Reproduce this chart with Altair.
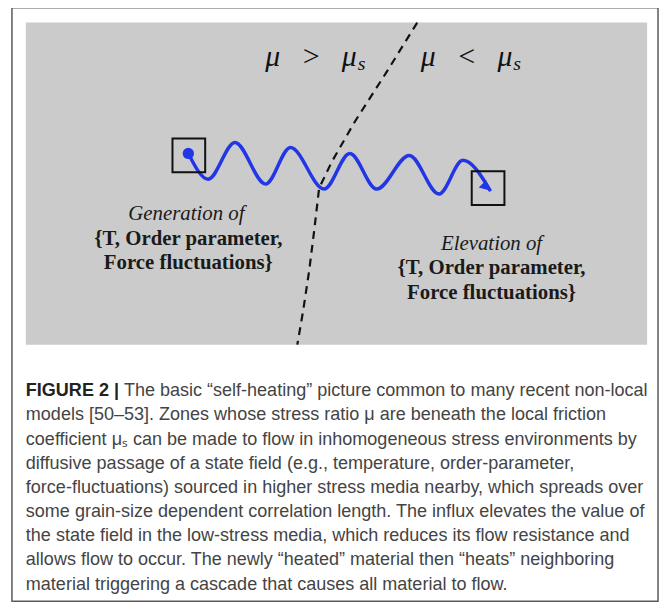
import altair as alt
import pandas as pd

W, H = 657, 597
X0, Y0 = 8, 8

# ---- diagram geometry (reference pixel coordinates) ----
frame_x, frame_x2, frame_y, frame_y2 = [12], [664], [5], [604]
panel_x, panel_x2, panel_y, panel_y2 = [26], [653], [20], [345]

boundary_x = [421, 390, 358, 335, 322, 317, 312, 306, 300]
boundary_y = [20, 70, 120, 160, 187, 230, 270, 310, 345]

wave_x = [190, 210, 237, 268, 293, 327, 353, 380, 413, 443, 467, 495]
wave_y = [152, 178, 141, 183, 146, 188, 152, 188, 154, 193, 159, 190]

box_x, box_x2 = [174, 476], [207, 509]
box_y, box_y2 = [137, 170], [171, 204]

dot_x, dot_y = [190], [152]
arrow_x, arrow_y = [490], [186]

mu_text = ["μ\u2002\u2009>\u2002\u2009μ", "μ\u2002\u2009<\u2002\u2009μ"]
mu_x, mu_y = [360, 517], [55, 55]
sub_text = ["s", "s"]
sub_x, sub_y = [361, 518], [62, 62]

italic_text = ["Generation of", "Elevation of"]
italic_x, italic_y = [188, 496], [213, 243]

bold_text = ["{T,  Order parameter,", "Force fluctuations}",
             "{T,  Order parameter,", "Force fluctuations}"]
bold_x = [190, 190, 496, 496]
bold_y = [238, 263, 268, 293]

# ---- caption ----
cap_head = ["FIGURE 2 |"]
cap_lines = [
    "The basic \u201cself-heating\u201d picture common to many recent non-local",
    "models [50\u201353]. Zones whose stress ratio \u03bc are beneath the local friction",
    "coefficient \u03bc\u209b can be made to flow in inhomogeneous stress environments by",
    "diffusive passage of a state field (e.g., temperature, order-parameter,",
    "force-fluctuations) sourced in higher stress media nearby, which spreads over",
    "some grain-size dependent correlation length. The influx elevates the value of",
    "the state field in the low-stress media, which reduces its flow resistance and",
    "allows flow to occur. The newly \u201cheated\u201d material then \u201cheats\u201d neighboring",
    "material triggering a cascade that causes all material to flow.",
]
cap_x = [125, 26, 26, 26, 26, 26, 26, 26, 26]
cap_y = [392, 416.4, 440.8, 465.2, 489.6, 514, 538.4, 562.8, 587.2]

xs = alt.Scale(domain=[X0, X0 + W], nice=False, zero=False)
ys = alt.Scale(domain=[Y0, Y0 + H], nice=False, zero=False, reverse=True)


def X(f="x"):
    return alt.X(f"{f}:Q", scale=xs, axis=None)


def Y(f="y"):
    return alt.Y(f"{f}:Q", scale=ys, axis=None)


def rects(x, x2, y, y2, **kw):
    df = pd.DataFrame({"x": x, "x2": x2, "y": y, "y2": y2})
    return alt.Chart(df).mark_rect(**kw).encode(
        x=X(), x2=alt.X2("x2"), y=Y(), y2=alt.Y2("y2"))


def texts(t, x, y, **kw):
    df = pd.DataFrame({"t": t, "x": x, "y": y})
    return alt.Chart(df).mark_text(**kw).encode(x=X(), y=Y(), text="t:N")


frame = rects(frame_x, frame_x2, frame_y, frame_y2, fill="white",
              stroke="#5a5a5a", strokeWidth=1.5)
panel = rects(panel_x, panel_x2, panel_y, panel_y2, fill="#cbcbcb")

bdf = pd.DataFrame({"x": boundary_x, "y": boundary_y,
                    "o": list(range(len(boundary_x)))})
boundary = alt.Chart(bdf).mark_line(
    color="#111111", strokeWidth=2.2, strokeDash=[8, 6]
).encode(x=X(), y=Y(), order="o:Q")

wdf = pd.DataFrame({"x": wave_x, "y": wave_y})
wave = alt.Chart(wdf).mark_line(
    color="#2236e6", strokeWidth=3.5, interpolate="monotone"
).encode(x=X(), y=Y())

boxes = rects(box_x, box_x2, box_y, box_y2, fill=None, stroke="#111111",
              strokeWidth=2)

dot = alt.Chart(pd.DataFrame({"x": dot_x, "y": dot_y})).mark_circle(
    color="#2236e6", size=130, opacity=1).encode(x=X(), y=Y())
arrow = alt.Chart(pd.DataFrame({"x": arrow_x, "y": arrow_y})).mark_point(
    shape="triangle-right", filled=True, color="#2236e6", size=110,
    angle=45, opacity=1).encode(x=X(), y=Y())

mu_main = texts(mu_text, mu_x, mu_y, font="Liberation Serif", fontSize=30,
                fontStyle="italic", align="right", baseline="middle",
                color="#111111")
mu_sub = texts(sub_text, sub_x, sub_y, font="Liberation Serif", fontSize=20,
               fontStyle="italic", align="left", baseline="middle",
               color="#111111")
ital = texts(italic_text, italic_x, italic_y, font="Liberation Serif",
             fontSize=21, fontStyle="italic", align="center",
             baseline="middle", color="#1a1a1a")
bold = texts(bold_text, bold_x, bold_y, font="Liberation Serif", fontSize=21,
             fontWeight="bold", align="center", baseline="middle",
             color="#1a1a1a")

head = texts(cap_head, [26], [392], font="Liberation Sans", fontSize=18.2,
             fontWeight="bold", align="left", baseline="middle",
             color="#222222")
caption = texts(cap_lines, cap_x, cap_y, font="Liberation Sans",
                fontSize=18.2, align="left", baseline="middle",
                color="#444444")

chart = alt.layer(
    frame, panel, boundary, wave, boxes, dot, arrow,
    mu_main, mu_sub, ital, bold, head, caption
).properties(
    width=W, height=H, padding=0, background="white",
    autosize=alt.AutoSizeParams(type="none")
).configure_view(stroke=None)

chart.save("out.html", embed_options={"renderer": "svg", "actions": False})
